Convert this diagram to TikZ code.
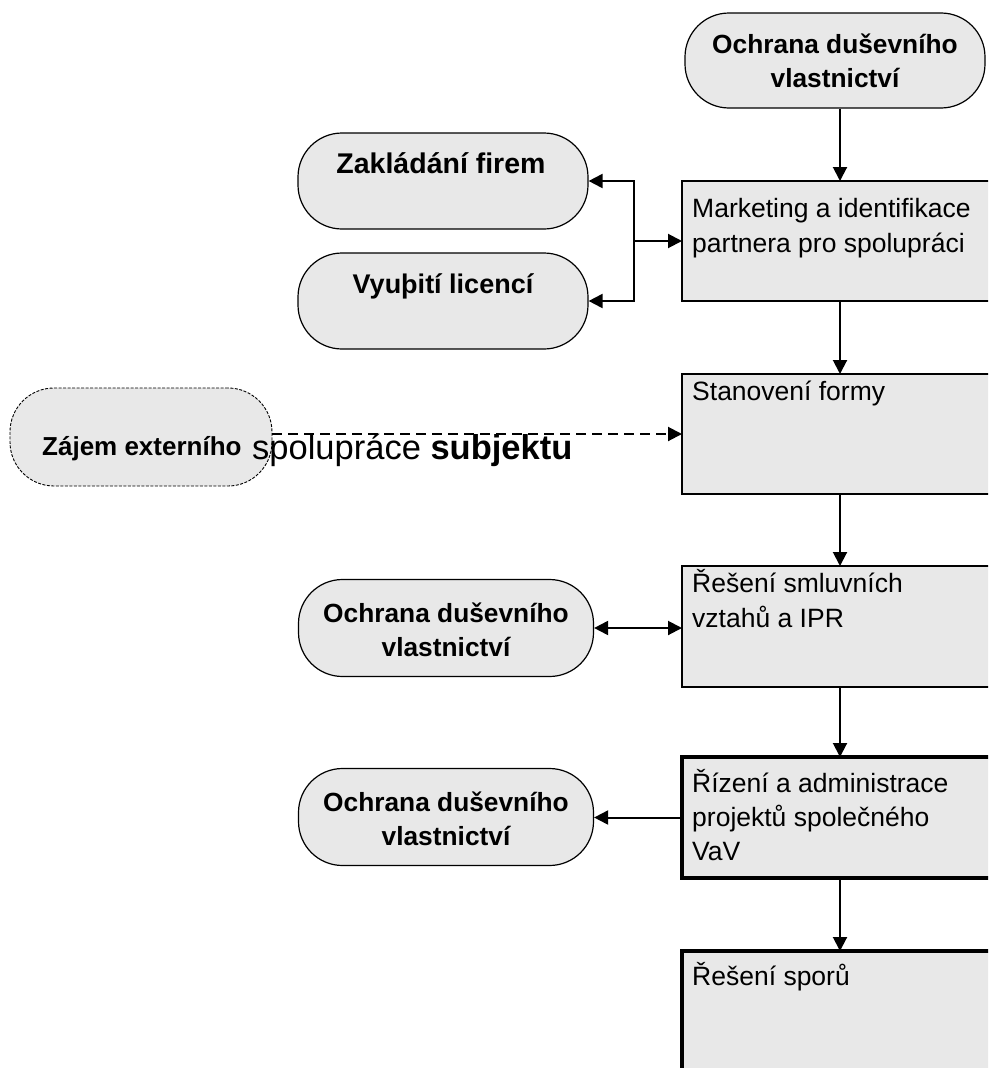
\documentclass[tikz,border=0pt]{standalone}
\usepackage{fontspec}
\setmainfont{Liberation Sans}
\usetikzlibrary{arrows.meta}
\definecolor{fillgray}{HTML}{E8E8E8}
\begin{document}
\begin{tikzpicture}[x=1pt,y=-1pt,
  pill/.style={draw=black, line width=1.2pt, fill=fillgray, rounded corners=44pt, inner sep=0pt},
  dpill/.style={pill, dash pattern=on 3pt off 1.5pt, line width=0.9pt},
  box/.style={draw=black, line width=2pt, fill=fillgray, inner sep=0pt, outer sep=0pt, anchor=north west},
  tbox/.style={box, line width=3.5pt},
  btext/.style={font=\bfseries\fontsize{26.3}{34}\selectfont, align=center, inner sep=0pt},
  rtext/.style={font=\fontsize{26.5}{35}\selectfont, align=left, inner sep=0pt, anchor=base west},
  arr/.style={line width=2pt, -{Triangle[length=14pt,width=14pt]}},
  darr/.style={line width=2pt, {Triangle[length=14pt,width=14pt]}-{Triangle[length=14pt,width=14pt]}},
  dasharr/.style={arr, dash pattern=on 10pt off 6pt}]
\clip (0,0) rectangle (988,1068);
\fill[white] (0,0) rectangle (988,1068);

% right column boxes
\node[pill, minimum width=300pt, minimum height=95pt] (top) at (835,60.5) {};
\node[btext] at (835,61) {Ochrana duševního\\vlastnictví};

\node[box, minimum width=316pt, minimum height=120pt] (b1) at (682,181) {};
\node[box, minimum width=316pt, minimum height=120pt] (b2) at (682,374) {};
\node[box, minimum width=316pt, minimum height=121pt] (b3) at (682,566) {};
\node[tbox, minimum width=316pt, minimum height=121pt] (b4) at (682,757) {};
\node[tbox, minimum width=316pt, minimum height=140pt] (b5) at (682,951) {};

% (base anchor of a multi-line node = baseline of its last line)
\node[rtext] (t1) at (692,252) {Marketing a identifikace\\partnera pro spolupráci};
\node[rtext] (t2) at (692,400) {Stanovení formy};
\node[rtext] (t3) at (692,627) {Řešení smluvních\\vztahů a IPR};
\node[rtext, font=\fontsize{26.5}{34}\selectfont] (t4) at (692,860) {Řízení a administrace\\projektů společného\\VaV};
\node[rtext] (t5) at (692,985) {Řešení sporů};

% left pills
\node[pill, minimum width=290pt, minimum height=96pt] (zf) at (443,181) {};
\node[btext, anchor=base, font=\bfseries\fontsize{28.5}{34}\selectfont] at (441,173) {Zakládání firem};
\node[pill, minimum width=290pt, minimum height=96pt] (vl) at (443,301) {};
\node[btext, anchor=base, font=\bfseries\fontsize{27}{34}\selectfont] at (443,293) {Vyuþití licencí};

\node[dpill, minimum width=262pt, minimum height=98pt] (zj) at (141,437) {};

\node[pill, minimum width=295pt, minimum height=97pt] (o2) at (446,628) {};
\node[btext] at (446,630) {Ochrana duševního\\vlastnictví};
\node[pill, minimum width=295pt, minimum height=97pt] (o3) at (446,817) {};
\node[btext] at (446,819) {Ochrana duševního\\vlastnictví};

% connectors
\draw[arr] (b1.north |- top.south) -- (b1.north);
\draw[arr] (b1.south) -- (b2.north);
\draw[arr] (b2.south) -- (b3.north);
\draw[arr] (b3.south) -- (b4.north);
\draw[arr] (b4.south) -- (b5.north);

\coordinate (bx) at (634,0);
\draw[darr] (zf.east) -- (bx |- zf.east) -- (bx |- vl.east) -- (vl.east);
\draw[arr] (bx |- b1.west) -- (b1.west);

\draw[dasharr] (zj.east |- b2.west) -- (b2.west);

\draw[darr] (o2.east) -- (o2.east -| b3.west);
\draw[arr] (b4.west) -- (b4.west -| o3.east);

% overflowing text of the dashed pill
\node[btext, anchor=base west, font=\bfseries\fontsize{26}{34}\selectfont] (zt) at (42,455) {Zájem externího};
\node[inner sep=0pt, anchor=base west, font=\fontsize{34.5}{40}\selectfont] (zs) at (252,459) {spolupráce \textbf{subjektu}};
\end{tikzpicture}
\end{document}
